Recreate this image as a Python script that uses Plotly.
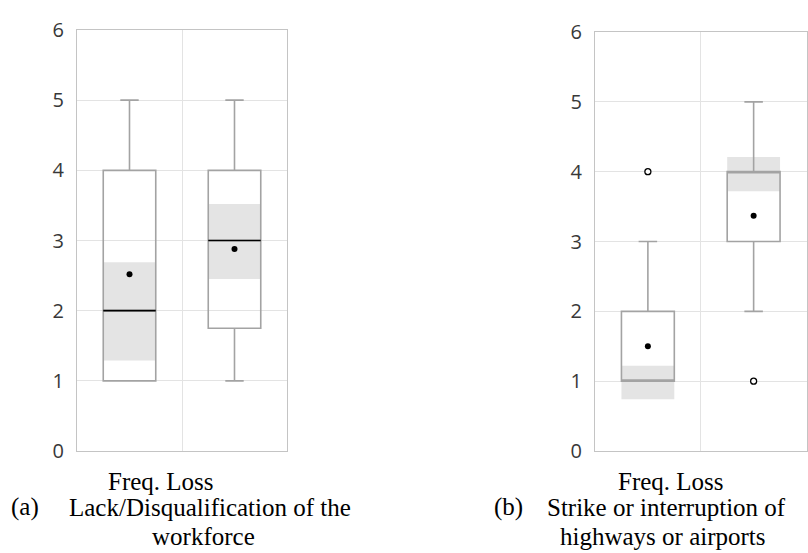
import plotly.graph_objects as go

# ---- data ----
positions = [0, 1]
# panel (a): Lack/Disqualification of the workforce
a_q1 = [1, 1.75]
a_median = [2, 3]
a_q3 = [4, 4]
a_low = [1, 1]
a_high = [5, 5]
a_mean = [2.52, 2.88]
a_ci_low = [1.29, 2.45]
a_ci_high = [2.69, 3.52]

# panel (b): Strike or interruption of highways or airports
b_q1 = [1, 3]
b_median = [1, 4]
b_q3 = [2, 4]
b_low = [1, 2]
b_high = [3, 5]
b_mean = [1.50, 3.37]
b_ci_low = [0.74, 3.72]
b_ci_high = [1.22, 4.21]
b_out_x = [0, 1]
b_out_y = [4, 1]

y_ticks = [0, 1, 2, 3, 4, 5, 6]
axis_label = "Freq. Loss"

BOX_W = 0.5
BOX_LINE = "#a3a3a3"
SHADE = "#e4e4e4"
GRID = "#e3e3e3"
BORDER = "#c4c4c4"

fig = go.Figure()


def add_panel(xa, ya, q1, med, q3, lo, hi, mean, cil, cih, mark_median):
    fig.add_trace(go.Bar(
        x=positions, y=[h - l for h, l in zip(cih, cil)], base=cil,
        width=BOX_W, marker=dict(color=SHADE, line=dict(width=0)),
        xaxis=xa, yaxis=ya, showlegend=False, hoverinfo="skip"))
    fig.add_trace(go.Box(
        x=positions, q1=q1, median=med, q3=q3, lowerfence=lo, upperfence=hi,
        width=BOX_W, whiskerwidth=0.35, boxpoints=False,
        fillcolor="rgba(0,0,0,0)", line=dict(color=BOX_LINE, width=1.6),
        xaxis=xa, yaxis=ya, showlegend=False))
    if mark_median:
        mx, my = [], []
        for p, m in zip(positions, med):
            mx += [p - BOX_W / 2, p + BOX_W / 2, None]
            my += [m, m, None]
        fig.add_trace(go.Scatter(
            x=mx, y=my, mode="lines", line=dict(color="black", width=1.6),
            xaxis=xa, yaxis=ya, showlegend=False, hoverinfo="skip"))
    fig.add_trace(go.Scatter(
        x=positions, y=mean, mode="markers",
        marker=dict(color="black", size=6),
        xaxis=xa, yaxis=ya, showlegend=False, cliponaxis=False))


add_panel("x", "y", a_q1, a_median, a_q3, a_low, a_high, a_mean,
          a_ci_low, a_ci_high, True)
add_panel("x2", "y2", b_q1, b_median, b_q3, b_low, b_high, b_mean,
          b_ci_low, b_ci_high, False)
fig.add_trace(go.Scatter(
    x=b_out_x, y=b_out_y, mode="markers",
    marker=dict(color="white", size=6, line=dict(color="black", width=1.3)),
    xaxis="x2", yaxis="y2", showlegend=False, cliponaxis=False))

xcommon = dict(range=[-0.5, 1.5], tickvals=[0.5], showticklabels=False,
               showgrid=True, gridcolor=GRID, gridwidth=1, zeroline=False,
               showline=True, linecolor=BORDER, linewidth=1, mirror=True,
               ticks="", fixedrange=True, automargin=False)
ycommon = dict(range=[0, 6], tickvals=y_ticks, showgrid=True, gridcolor=GRID,
               gridwidth=1, zeroline=False, showline=True, linecolor=BORDER,
               linewidth=1, mirror=True, ticks="", ticklabelstandoff=8,
               automargin=False,
               tickfont=dict(family="Open Sans", size=20, color="#383838"))

W, H = 808, 553


def px(x):
    return x / W


def py(y):
    return 1 - y / H


fig.update_layout(
    width=W, height=H,
    margin=dict(l=0, r=0, t=0, b=0, pad=0, autoexpand=False),
    paper_bgcolor="white", plot_bgcolor="white",
    showlegend=False, barmode="overlay",
    xaxis=dict(domain=[px(77), px(287)], anchor="y", **xcommon),
    yaxis=dict(domain=[py(451), py(30)], anchor="x", **ycommon),
    xaxis2=dict(domain=[px(595), px(806.5)], anchor="y2", **xcommon),
    yaxis2=dict(domain=[py(451), py(32)], anchor="x2", **ycommon),
)

serif = dict(family="Liberation Serif", size=25, color="black")
annots = [
    (161, 481, axis_label, "center"),
    (24.5, 507, "(a)", "center"),
    (210, 507, "Lack/Disqualification of the", "center"),
    (203, 536, "workforce", "center"),
    (671, 481, axis_label, "center"),
    (508, 507, "(b)", "center"),
    (666, 507, "Strike or interruption of", "center"),
    (663, 536, "highways or airports", "center"),
]
for x, y, t, anc in annots:
    fig.add_annotation(x=px(x), y=py(y), xref="paper", yref="paper",
                       text=t, showarrow=False, xanchor=anc, yanchor="middle",
                       font=serif)

fig.write_html("out.html",
               config={"displayModeBar": False},
               post_script="document.body.style.margin='0';"
                           "document.body.style.overflow='hidden';")
